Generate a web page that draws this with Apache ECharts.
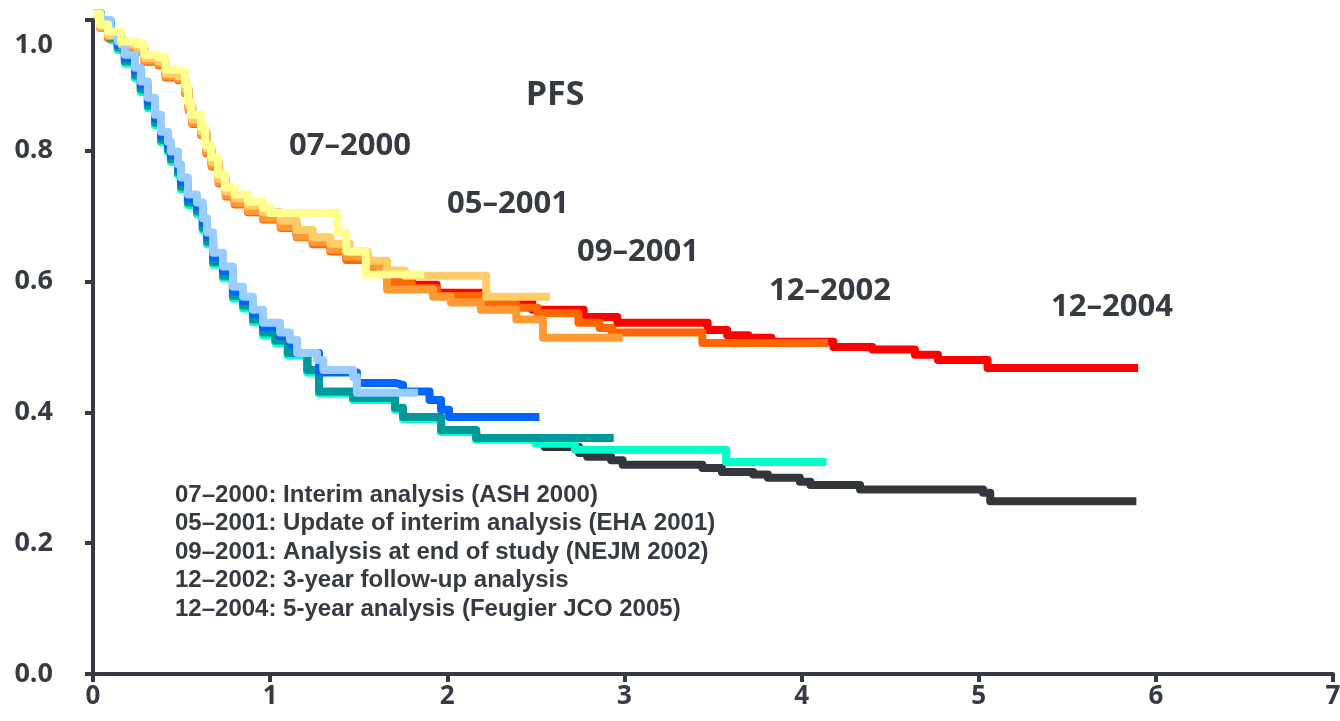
<!DOCTYPE html>
<html>
<head>
<meta charset="utf-8">
<title>PFS</title>
<script src="https://cdn.jsdelivr.net/npm/echarts@6/dist/echarts.min.js"></script>
<style>
  html, body { margin: 0; padding: 0; background: #fff; }
  #chart { width: 1340px; height: 721px; }
</style>
</head>
<body>
<div id="chart"></div>
<script>
// axis ticks
var xTicks = [0, 1, 2, 3, 4, 5, 6, 7];
var yTicks = [0, 0.2, 0.4, 0.6, 0.8, 1.0];

// analyses, newest first (drawn underneath)
var analyses = ['12–2004', '12–2002', '09–2001', '05–2001', '07–2000'];
var notes = [
  '07–2000: Interim analysis (ASH 2000)',
  '05–2001: Update of interim analysis (EHA 2001)',
  '09–2001: Analysis at end of study (NEJM 2002)',
  '12–2002: 3-year follow-up analysis',
  '12–2004: 5-year analysis (Feugier JCO 2005)'
];

// upper arm [years, PFS]
var upper2004 = [[0,1.01],[0.04,0.99],[0.085,0.976],[0.16,0.961],[0.25,0.956],[0.29,0.94],[0.37,0.935],[0.41,0.916],[0.48,0.912],[0.52,0.892],[0.54,0.866],[0.56,0.845],[0.61,0.828],[0.64,0.8],[0.67,0.78],[0.71,0.754],[0.75,0.734],[0.8,0.722],[0.875,0.71],[0.96,0.699],[1.06,0.686],[1.15,0.672],[1.24,0.661],[1.34,0.65],[1.43,0.637],[1.55,0.621],[1.66,0.603],[1.8,0.595],[1.94,0.583],[2.2,0.568],[2.48,0.557],[2.77,0.546],[2.96,0.537],[3.47,0.526],[3.58,0.518],[3.7,0.514],[3.83,0.508],[4.18,0.5],[4.4,0.496],[4.64,0.488],[4.77,0.48],[5.05,0.468],[5.9,0.468]];
var upper2002 = [[0,1.01],[0.04,0.988],[0.085,0.972],[0.16,0.957],[0.25,0.952],[0.29,0.936],[0.37,0.931],[0.41,0.912],[0.48,0.908],[0.52,0.888],[0.54,0.862],[0.56,0.841],[0.61,0.824],[0.64,0.796],[0.67,0.776],[0.71,0.75],[0.75,0.73],[0.8,0.718],[0.875,0.706],[0.96,0.695],[1.06,0.682],[1.15,0.668],[1.24,0.657],[1.34,0.646],[1.43,0.633],[1.55,0.617],[1.66,0.598],[1.8,0.59],[1.94,0.578],[2.2,0.565],[2.39,0.56],[2.51,0.552],[2.74,0.537],[2.86,0.529],[2.93,0.522],[3.44,0.506],[4.15,0.506]];
var upper2001b = [[0,1.01],[0.04,0.99],[0.085,0.975],[0.16,0.96],[0.25,0.954],[0.29,0.938],[0.37,0.933],[0.41,0.914],[0.48,0.91],[0.52,0.89],[0.54,0.864],[0.56,0.843],[0.61,0.826],[0.64,0.798],[0.67,0.778],[0.71,0.752],[0.75,0.732],[0.8,0.72],[0.875,0.708],[0.96,0.697],[1.06,0.684],[1.15,0.669],[1.24,0.66],[1.34,0.649],[1.43,0.638],[1.55,0.625],[1.62,0.612],[1.66,0.588],[1.92,0.577],[2.02,0.568],[2.19,0.557],[2.39,0.542],[2.54,0.514],[2.99,0.514]];
var upper2001a = [[0,1.01],[0.04,0.99],[0.085,0.977],[0.16,0.963],[0.25,0.958],[0.29,0.942],[0.37,0.937],[0.41,0.918],[0.48,0.914],[0.52,0.895],[0.54,0.868],[0.56,0.848],[0.61,0.83],[0.64,0.803],[0.67,0.783],[0.71,0.757],[0.75,0.738],[0.8,0.727],[0.875,0.716],[0.96,0.706],[1.06,0.693],[1.15,0.679],[1.24,0.668],[1.34,0.658],[1.45,0.646],[1.55,0.632],[1.66,0.617],[1.76,0.609],[2.22,0.577],[2.58,0.577]];
var upper2000 = [[0,1.01],[0.04,0.993],[0.085,0.982],[0.16,0.967],[0.25,0.963],[0.29,0.947],[0.37,0.943],[0.41,0.924],[0.48,0.921],[0.52,0.901],[0.536,0.875],[0.553,0.855],[0.61,0.836],[0.632,0.809],[0.666,0.79],[0.706,0.764],[0.745,0.744],[0.8,0.733],[0.875,0.722],[0.96,0.713],[1.0,0.705],[1.38,0.675],[1.43,0.646],[1.54,0.611],[1.87,0.611]];

// lower arm [years, PFS]
var lower2004 = [[0,1.01],[0.045,0.996],[0.1,0.971],[0.14,0.956],[0.18,0.935],[0.237,0.913],[0.27,0.892],[0.31,0.867],[0.35,0.841],[0.384,0.815],[0.423,0.8],[0.44,0.785],[0.48,0.765],[0.497,0.743],[0.536,0.719],[0.587,0.705],[0.62,0.68],[0.644,0.659],[0.678,0.628],[0.734,0.607],[0.79,0.576],[0.847,0.561],[0.903,0.54],[0.96,0.52],[1.03,0.508],[1.1,0.489],[1.21,0.463],[1.276,0.43],[1.468,0.42],[1.705,0.405],[1.75,0.391],[1.965,0.371],[2.163,0.36],[2.55,0.347],[2.744,0.338],[2.79,0.332],[2.925,0.327],[2.99,0.32],[3.44,0.315],[3.55,0.309],[3.727,0.305],[3.81,0.3],[3.99,0.294],[4.05,0.289],[4.33,0.282],[5.025,0.277],[5.065,0.264],[5.89,0.264]];
var lower2002 = [[0,1.01],[0.045,0.994],[0.1,0.969],[0.14,0.954],[0.18,0.933],[0.237,0.911],[0.27,0.89],[0.31,0.865],[0.35,0.839],[0.384,0.813],[0.423,0.798],[0.44,0.783],[0.48,0.763],[0.497,0.741],[0.536,0.717],[0.587,0.703],[0.62,0.678],[0.644,0.657],[0.678,0.626],[0.734,0.605],[0.79,0.574],[0.847,0.559],[0.903,0.538],[0.96,0.518],[1.03,0.506],[1.1,0.487],[1.21,0.461],[1.276,0.429],[1.468,0.419],[1.705,0.404],[1.75,0.39],[1.965,0.37],[2.163,0.358],[2.5,0.352],[2.72,0.343],[3.574,0.324],[4.14,0.324]];
var lower2001b = [[0,1.01],[0.045,0.998],[0.1,0.973],[0.14,0.958],[0.18,0.937],[0.237,0.915],[0.27,0.894],[0.31,0.869],[0.35,0.843],[0.384,0.817],[0.423,0.802],[0.44,0.787],[0.48,0.767],[0.497,0.745],[0.536,0.721],[0.587,0.707],[0.62,0.682],[0.644,0.661],[0.678,0.63],[0.734,0.609],[0.79,0.578],[0.847,0.563],[0.903,0.542],[0.96,0.522],[1.03,0.51],[1.1,0.491],[1.21,0.465],[1.276,0.432],[1.468,0.422],[1.705,0.407],[1.75,0.393],[1.965,0.373],[2.163,0.361],[2.94,0.361]];
var lower2001a = [[0,1.01],[0.045,0.997],[0.1,0.978],[0.14,0.962],[0.18,0.942],[0.237,0.921],[0.27,0.9],[0.31,0.875],[0.35,0.849],[0.384,0.823],[0.423,0.808],[0.44,0.793],[0.48,0.773],[0.497,0.752],[0.536,0.727],[0.587,0.714],[0.62,0.69],[0.644,0.668],[0.678,0.637],[0.734,0.616],[0.79,0.585],[0.847,0.57],[0.903,0.55],[0.96,0.53],[1.056,0.516],[1.112,0.505],[1.146,0.491],[1.276,0.461],[1.49,0.445],[1.705,0.442],[1.75,0.432],[1.9,0.419],[1.965,0.404],[2.01,0.393],[2.52,0.393]];
var lower2000 = [[0,1.01],[0.045,1.0],[0.1,0.982],[0.14,0.967],[0.18,0.947],[0.237,0.927],[0.27,0.906],[0.31,0.881],[0.35,0.855],[0.384,0.829],[0.423,0.814],[0.44,0.799],[0.48,0.779],[0.497,0.759],[0.536,0.733],[0.587,0.721],[0.62,0.697],[0.644,0.675],[0.678,0.644],[0.734,0.623],[0.79,0.592],[0.847,0.577],[0.903,0.557],[0.96,0.537],[1.056,0.522],[1.112,0.511],[1.152,0.491],[1.265,0.48],[1.3,0.465],[1.468,0.454],[1.49,0.43],[1.835,0.43]];

var upperCurves = [upper2004, upper2002, upper2001b, upper2001a, upper2000];
var lowerCurves = [lower2004, lower2002, lower2001b, lower2001a, lower2000];
var upperColors = ['#ff0000', '#ff6600', '#ff9933', '#ffcc66', '#ffff8f'];
var lowerColors = ['#33363d', '#00ffcc', '#009999', '#0066ff', '#99ccff'];

var ink = '#363a42';
var chart = echarts.init(document.getElementById('chart'));

function stepLine(name, data, color, z) {
  return {
    name: name,
    type: 'line',
    step: 'end',
    data: data,
    showSymbol: false,
    clip: false,
    z: z,
    silent: true,
    lineStyle: { color: color, width: 8, join: 'round' }
  };
}

var series = [];
for (var i = 0; i < analyses.length; i++) {
  series.push(stepLine(analyses[i] + ' lower', lowerCurves[i], lowerColors[i], 2 + i));
  series.push(stepLine(analyses[i] + ' upper', upperCurves[i], upperColors[i], 2 + i));
}

var bigFont = 'bold 31px "Open Sans", sans-serif';
var graphics = [
  { type: 'text', x: 555, y: 95, style: { text: 'PFS', font: 'bold 34px "Open Sans", sans-serif', fill: ink, textAlign: 'center', textVerticalAlign: 'middle' } },
  { type: 'text', x: 350, y: 146, style: { text: analyses[4], font: bigFont, fill: ink, textAlign: 'center', textVerticalAlign: 'middle' } },
  { type: 'text', x: 508, y: 204, style: { text: analyses[3], font: bigFont, fill: ink, textAlign: 'center', textVerticalAlign: 'middle' } },
  { type: 'text', x: 638, y: 252, style: { text: analyses[2], font: bigFont, fill: ink, textAlign: 'center', textVerticalAlign: 'middle' } },
  { type: 'text', x: 830, y: 291, style: { text: analyses[1], font: bigFont, fill: ink, textAlign: 'center', textVerticalAlign: 'middle' } },
  { type: 'text', x: 1112, y: 307, style: { text: analyses[0], font: bigFont, fill: ink, textAlign: 'center', textVerticalAlign: 'middle' } }
];
for (var j = 0; j < notes.length; j++) {
  graphics.push({
    type: 'text', x: 175, y: 495 + j * 28.6,
    style: { text: notes[j], font: 'bold 24px "Liberation Sans", Arial, sans-serif', fill: ink, textAlign: 'left', textVerticalAlign: 'middle' }
  });
}

var option = {
  backgroundColor: '#fff',
  animation: false,
  grid: { left: 93, right: 7, top: 20, bottom: 47, containLabel: false, outerBoundsMode: 'none' },
  xAxis: {
    type: 'value',
    min: xTicks[0],
    max: xTicks[xTicks.length - 1],
    interval: 1,
    splitLine: { show: false },
    axisLine: { lineStyle: { color: ink, width: 4 } },
    axisTick: { show: true, length: 8, lineStyle: { color: ink, width: 4 } },
    axisLabel: { margin: 10, color: ink, fontSize: 26, fontWeight: 'bold', fontFamily: 'Open Sans' }
  },
  yAxis: {
    type: 'value',
    min: yTicks[0],
    max: yTicks[yTicks.length - 1],
    interval: 0.2,
    splitLine: { show: false },
    axisLine: { show: true, lineStyle: { color: ink, width: 4 } },
    axisTick: { show: true, length: 8, lineStyle: { color: ink, width: 4 } },
    axisLabel: {
      margin: 40,
      color: ink,
      fontSize: 27,
      lineHeight: 25,
      fontWeight: 'bold',
      fontFamily: 'Open Sans',
      formatter: function (v) {
        // the 1.0 label sits lower than its tick in the original
        return v === 1 ? '\n\n1.0' : v.toFixed(1);
      }
    }
  },
  graphic: graphics,
  series: series
};
chart.setOption(option);
</script>
</body>
</html>
